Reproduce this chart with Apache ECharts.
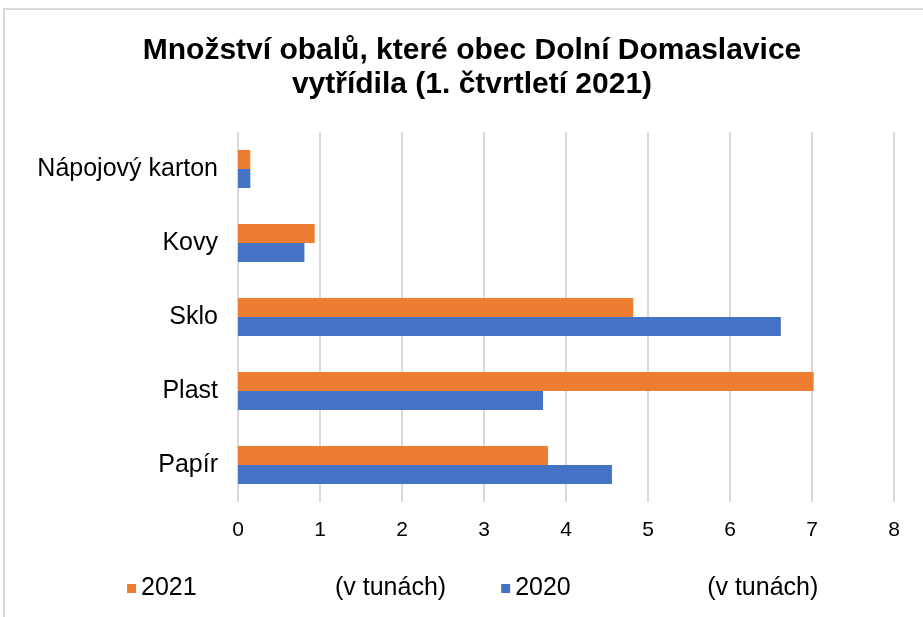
<!DOCTYPE html>
<html><head><meta charset="utf-8">
<script src="https://cdn.jsdelivr.net/npm/echarts@6/dist/echarts.min.js"></script>
<style>html,body{margin:0;padding:0;background:#fff}#c{width:923px;height:617px}</style>
</head><body><div id="c"></div>
<script>
const categories = ['Papír', 'Plast', 'Sklo', 'Kovy', 'Nápojový karton'];
const values2021 = [3.78, 7.02, 4.82, 0.935, 0.15];
const values2020 = [4.56, 3.72, 6.62, 0.81, 0.15];
const xTicks = [0, 1, 2, 3, 4, 5, 6, 7, 8];
const titleText = 'Množství obalů, které obec Dolní Domaslavice\nvytřídila (1. čtvrtletí 2021)';
const unitText = '(v tunách)';

const chart = echarts.init(document.getElementById('c'));
chart.setOption({
  animation: false,
  textStyle: { fontFamily: 'Liberation Sans, Arial, sans-serif' },
  graphic: [{ type: 'rect', shape: { x: 4, y: 9, width: 1000, height: 1000 }, style: { fill: 'none', stroke: '#d9d9d9', lineWidth: 2 } }],
  title: {
    text: titleText, left: 467, top: 29, textAlign: 'center',
    textStyle: { fontSize: 30, fontWeight: 'bold', color: '#000', lineHeight: 34, fontFamily: 'Liberation Sans, Arial, sans-serif' }
  },
  legend: {
    data: ['2021', '2020'], left: 122, top: 571, icon: 'rect', itemWidth: 9, itemHeight: 9, itemGap: 55,
    formatter: function (n) { return '{' + (n === '2021' ? 'a' : 'c') + '|' + n + '}{b|' + unitText + '}'; },
    textStyle: { fontSize: 25, color: '#000', rich: { a: { width: 194, fontSize: 25 }, c: { width: 192, fontSize: 25 }, b: { fontSize: 25 } } }
  },
  grid: { left: 238, right: 29, top: 132, bottom: 115, containLabel: false },
  xAxis: {
    type: 'value', min: xTicks[0], max: xTicks[xTicks.length - 1], interval: 1,
    axisLine: { show: false }, axisTick: { show: false },
    splitLine: { lineStyle: { color: '#d9d9d9', width: 2 } },
    axisLabel: { fontSize: 21, color: '#000', margin: 18, formatter: v => String(v) }
  },
  yAxis: {
    type: 'category', data: categories,
    axisLine: { show: false }, axisTick: { show: false },
    axisLabel: { fontSize: 25, color: '#000', margin: 20 }
  },
  series: [
    { name: '2021', type: 'bar', data: values2021, barWidth: 19, barGap: '0%', itemStyle: { color: '#ED7D31' } },
    { name: '2020', type: 'bar', data: values2020, barWidth: 19, barGap: '0%', itemStyle: { color: '#4472C4' } }
  ]
});
</script></body></html>
